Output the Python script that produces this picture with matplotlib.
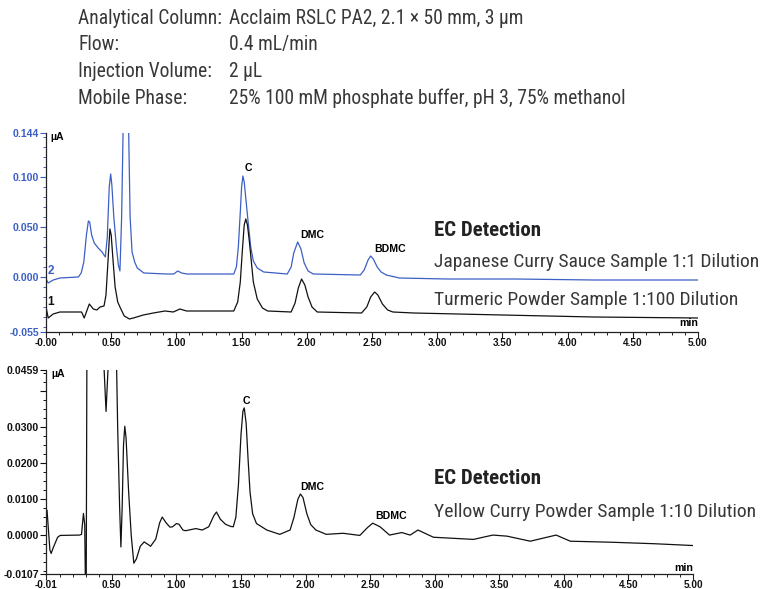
import matplotlib
matplotlib.use("Agg")
import matplotlib.pyplot as plt
from matplotlib import font_manager as fm
from matplotlib.ticker import FixedLocator, MultipleLocator, FixedFormatter

# ---- chromatogram data (retention time in min, signal in µA) ----
sauce_t = [0.00, 0.017, 0.055, 0.107, 0.248, 0.27, 0.29, 0.31, 0.325, 0.335, 0.35, 0.37,
           0.40, 0.43, 0.455, 0.47, 0.485, 0.496, 0.505, 0.52, 0.54, 0.555, 0.567, 0.58,
           0.593, 0.61, 0.632, 0.645, 0.66, 0.68, 0.70, 0.75, 0.925, 0.98, 1.01, 1.04,
           1.08, 1.44, 1.46, 1.475, 1.49, 1.50, 1.51, 1.52, 1.535, 1.55, 1.57, 1.59,
           1.62, 1.67, 1.85, 1.88, 1.90, 1.93, 1.955, 1.98, 2.01, 2.05, 2.41, 2.44,
           2.47, 2.49, 2.51, 2.54, 2.57, 2.61, 2.71, 3.07, 3.60, 4.20, 5.00]
sauce_v = [-0.002, -0.006, -0.003, -0.001, 0.000, 0.004, 0.015, 0.042, 0.056, 0.055, 0.042, 0.034,
           0.029, 0.025, 0.020, 0.040, 0.090, 0.103, 0.092, 0.060, 0.030, 0.012, 0.006, 0.060,
           0.160, 0.260, 0.160, 0.060, 0.025, 0.015, 0.009, 0.004, 0.003, 0.003, 0.006, 0.004,
           0.003, 0.003, 0.010, 0.030, 0.065, 0.090, 0.101, 0.095, 0.075, 0.055, 0.030, 0.016,
           0.009, 0.005, 0.003, 0.010, 0.024, 0.035, 0.028, 0.014, 0.006, 0.003, 0.002, 0.007,
           0.017, 0.021, 0.018, 0.010, 0.005, 0.002, -0.001, -0.002, -0.002, -0.003, -0.003]

turmeric_t = [0.00, 0.017, 0.055, 0.107, 0.273, 0.293, 0.332, 0.363, 0.39, 0.414, 0.445, 0.46,
              0.475, 0.49, 0.50, 0.515, 0.53, 0.55, 0.567, 0.60, 0.64, 0.67, 0.746, 0.823,
              0.912, 0.976, 1.027, 1.078, 1.18, 1.44, 1.47, 1.49, 1.505, 1.52, 1.532, 1.545,
              1.56, 1.575, 1.59, 1.62, 1.66, 1.70, 1.88, 1.91, 1.935, 1.96, 1.985, 2.01,
              2.04, 2.08, 2.42, 2.46, 2.49, 2.52, 2.545, 2.58, 2.62, 2.66, 2.82, 3.50,
              4.20, 5.00]
turmeric_v = [-0.030, -0.041, -0.037, -0.035, -0.035, -0.041, -0.027, -0.032, -0.033, -0.030, -0.029, -0.018,
              0.015, 0.048, 0.042, 0.015, -0.010, -0.025, -0.030, -0.039, -0.042, -0.041, -0.038, -0.036,
              -0.034, -0.035, -0.032, -0.034, -0.034, -0.034, -0.025, -0.005, 0.025, 0.052, 0.058, 0.052,
              0.035, 0.015, -0.005, -0.022, -0.031, -0.034, -0.035, -0.026, -0.011, -0.002, -0.008, -0.020,
              -0.030, -0.035, -0.036, -0.030, -0.020, -0.015, -0.018, -0.027, -0.033, -0.035, -0.036, -0.038,
              -0.040, -0.041]

yellow_t = [-0.01, -0.002, 0.005, 0.011, 0.02, 0.03, 0.045, 0.06, 0.08, 0.10, 0.25, 0.265,
            0.28, 0.29, 0.30, 0.31, 0.43, 0.44, 0.455, 0.47, 0.53, 0.545, 0.56, 0.57,
            0.58, 0.59, 0.60, 0.61, 0.63, 0.65, 0.67, 0.69, 0.72, 0.75, 0.78, 0.80,
            0.84, 0.87, 0.89, 0.92, 0.95, 0.97, 1.00, 1.02, 1.05, 1.07, 1.15, 1.20,
            1.25, 1.29, 1.31, 1.34, 1.38, 1.42, 1.44, 1.46, 1.48, 1.50, 1.515, 1.525,
            1.54, 1.555, 1.57, 1.59, 1.62, 1.70, 1.80, 1.88, 1.91, 1.94, 1.96, 1.98,
            2.01, 2.04, 2.08, 2.16, 2.29, 2.42, 2.48, 2.52, 2.577, 2.65, 2.745, 2.81,
            2.87, 2.99, 3.30, 3.45, 3.56, 3.74, 3.94, 4.05, 4.38, 4.70, 5.00]
yellow_v = [0.0041, 0.0070, 0.0035, 0.0005, -0.0040, -0.0050, -0.0035, -0.0022, -0.0005, 0.0000, 0.0001, 0.0003,
            0.0061, 0.0030, -0.0300, 0.0900, 0.0900, 0.0460, 0.0344, 0.0460, 0.0600, 0.0300, 0.0080, -0.0032,
            0.0080, 0.0250, 0.0303, 0.0270, 0.0120, 0.0000, -0.0077, -0.0065, -0.0030, -0.0018, -0.0025, -0.0030,
            -0.0010, 0.0035, 0.0051, 0.0035, 0.0023, 0.0024, 0.0033, 0.0031, 0.0015, 0.0013, 0.0019, 0.0015,
            0.0024, 0.0055, 0.0065, 0.0045, 0.0031, 0.0025, 0.0024, 0.0050, 0.0140, 0.0280, 0.0345, 0.0354,
            0.0310, 0.0210, 0.0120, 0.0060, 0.0033, 0.0015, 0.0003, 0.0015, 0.0050, 0.0100, 0.0115, 0.0105,
            0.0060, 0.0030, 0.0015, 0.0003, 0.0006, 0.0000, 0.0022, 0.0034, 0.0024, 0.0001, 0.0008, 0.0001,
            0.0015, -0.0005, -0.0011, 0.0001, -0.0002, -0.0016, 0.0001, -0.0016, -0.0019, -0.0023, -0.0028]

# peak annotations: (label, time, signal) - text starts at the given point
top_peaks = [("C", 1.52, 0.104), ("DMC", 1.95, 0.037), ("BDMC", 2.52, 0.023)]
bottom_peaks = [("C", 1.515, 0.0360), ("DMC", 1.955, 0.0121), ("BDMC", 2.54, 0.0041)]

top_yticks = [-0.055, 0.000, 0.050, 0.100, 0.144]
top_ylabels = ["-0.055", "0.000", "0.050", "0.100", "0.144"]
bottom_yticks = [-0.0107, 0.0000, 0.0100, 0.0200, 0.0300, 0.0400, 0.0459]
bottom_ylabels = ["-0.0107", "0.0000", "0.0100", "0.0200", "0.0300", "", "0.0459"]
top_xticks = [0.0, 0.5, 1.0, 1.5, 2.0, 2.5, 3.0, 3.5, 4.0, 4.5, 5.0]
top_xlabels = ["-0.00", "0.50", "1.00", "1.50", "2.00", "2.50", "3.00", "3.50", "4.00", "4.50", "5.00"]
bottom_xticks = [-0.01, 0.5, 1.0, 1.5, 2.0, 2.5, 3.0, 3.5, 4.0, 4.5, 5.0]
bottom_xlabels = ["-0.01", "0.50", "1.00", "1.50", "2.00", "2.50", "3.00", "3.50", "4.00", "4.50", "5.00"]

conditions = [("Analytical Column:", "Acclaim RSLC PA2, 2.1 \u00d7 50 mm, 3 \u00b5m"),
              ("Flow:", "0.4 mL/min"),
              ("Injection Volume:", "2 \u00b5L"),
              ("Mobile Phase:", "25% 100 mM phosphate buffer, pH 3, 75% methanol")]

BLUE = "#3c5fc4"
TXT = "#383838"

# pick a narrow sans family for the header and captions
_available = {f.name for f in fm.fontManager.ttflist}
NARROW_FACE = "DejaVu Sans"
for cand in ["Roboto Condensed", "Liberation Sans Narrow", "Archivo Narrow", "PT Sans Narrow",
             "Fira Sans Condensed", "IBM Plex Sans Condensed", "Open Sans Condensed",
             "Barlow Semi Condensed", "Encode Sans Condensed", "Roboto"]:
    if cand in _available:
        NARROW_FACE = cand
        break
NARROW = [NARROW_FACE, "DejaVu Sans"]
plt.rcParams["font.family"] = ["Liberation Sans", "DejaVu Sans"]

fig = plt.figure(figsize=(7.61, 5.89), dpi=100)
W, H = 761, 589
TICK_FS = 7.6
ANN_FS = 7.6


def px_axes(l, t, r, b):
    return fig.add_axes([l / W, 1 - b / H, (r - l) / W, (b - t) / H])


def style_axes(ax, ycolor):
    for s in ("top", "right"):
        ax.spines[s].set_visible(False)
    for s in ("left", "bottom"):
        ax.spines[s].set_linewidth(0.9)
        ax.spines[s].set_color("#222222")
    ax.tick_params(which="major", length=4, width=0.8, labelsize=TICK_FS, pad=1)
    ax.tick_params(which="minor", length=2.5, width=0.7)
    ax.tick_params(axis="x", which="major", labelsize=7.2, pad=0.5)
    ax.tick_params(axis="y", which="both", colors=ycolor, labelcolor=ycolor)
    ax.tick_params(axis="x", which="both", colors="#222222", labelcolor="#111111")
    for lab in ax.get_xticklabels() + ax.get_yticklabels():
        lab.set_fontweight("bold")


# ---- top panel: two overlaid chromatograms ----
ax1 = px_axes(46, 133, 698, 332)
ax1.plot(sauce_t, sauce_v, color=BLUE, lw=0.9)
ax1.plot(turmeric_t, turmeric_v, color="#111111", lw=0.9)
ax1.set_xlim(0, 5.0)
ax1.set_ylim(-0.055, 0.144)
ax1.yaxis.set_major_locator(FixedLocator(top_yticks))
ax1.yaxis.set_major_formatter(FixedFormatter(top_ylabels))
ax1.yaxis.set_minor_locator(FixedLocator([i / 100 for i in range(-5, 15)]))
ax1.xaxis.set_major_locator(FixedLocator(top_xticks))
ax1.xaxis.set_major_formatter(FixedFormatter(top_xlabels))
ax1.xaxis.set_minor_locator(MultipleLocator(0.1))
style_axes(ax1, BLUE)
for name, t, v in top_peaks:
    ax1.text(t, v, name, fontsize=ANN_FS, fontweight="bold", ha="left", va="bottom")
ax1.text(0.03, 0.145, "\u00b5A", fontsize=ANN_FS, fontweight="bold", ha="left", va="top")
ax1.text(5.0, -0.051, "min", fontsize=ANN_FS, fontweight="bold", ha="right", va="bottom")
ax1.text(0.012, 0.000, "2", fontsize=8.5, fontweight="bold", color=BLUE, ha="left", va="bottom")
ax1.text(0.008, -0.031, "1", fontsize=8.5, fontweight="bold", color="#111111", ha="left", va="bottom")

# ---- bottom panel: single chromatogram ----
ax2 = px_axes(46, 370, 693, 574)
ax2.plot(yellow_t, yellow_v, color="#111111", lw=0.9)
ax2.set_xlim(-0.01, 5.0)
ax2.set_ylim(-0.0107, 0.0459)
ax2.yaxis.set_major_locator(FixedLocator(bottom_yticks))
ax2.yaxis.set_major_formatter(FixedFormatter(bottom_ylabels))
ax2.yaxis.set_minor_locator(FixedLocator([i * 0.0025 for i in range(-4, 19)]))
ax2.xaxis.set_major_locator(FixedLocator(bottom_xticks))
ax2.xaxis.set_major_formatter(FixedFormatter(bottom_xlabels))
ax2.xaxis.set_minor_locator(FixedLocator([i / 10 for i in range(1, 50) if i % 5]))
style_axes(ax2, "#111111")
for name, t, v in bottom_peaks:
    ax2.text(t, v, name, fontsize=ANN_FS, fontweight="bold", ha="left", va="bottom")
ax2.text(0.03, 0.0461, "\u00b5A", fontsize=ANN_FS, fontweight="bold", ha="left", va="top")
ax2.text(5.0, -0.0104, "min", fontsize=ANN_FS, fontweight="bold", ha="right", va="bottom")

# ---- text helpers: size a narrow label so it spans a given pixel width ----
renderer = fig.canvas.get_renderer()


def fitted_size(text, width_px, weight="normal"):
    probe = fig.text(0, 0, text, fontsize=10, family=NARROW, fontweight=weight)
    w = probe.get_window_extent(renderer).width
    probe.remove()
    return 10 * width_px / w


head_fs = 0.5 * (fitted_size("25% 100 mM phosphate buffer, pH 3, 75% methanol", 403)
                 + fitted_size("Analytical Column:", 140))
cap_fs = fitted_size("Japanese Curry Sauce Sample 1:1 Dilution", 322)
ec_fs = fitted_size("EC Detection", 107, "bold")

# ---- run conditions header ----
for i, (k, v) in enumerate(conditions):
    y = 1 - (18 + 26.7 * i) / H
    fig.text(78 / W, y, k, fontsize=head_fs, family=NARROW, color=TXT, va="center")
    fig.text(229 / W, y, v, fontsize=head_fs, family=NARROW, color=TXT, va="center")

# ---- detection captions ----
fig.text(434 / W, 1 - 231 / H, "EC Detection", fontsize=ec_fs, fontweight="bold", family=NARROW, color="#222222", va="center")
fig.text(434 / W, 1 - 262 / H, "Japanese Curry Sauce Sample 1:1 Dilution", fontsize=cap_fs, family=NARROW, color=TXT, va="center")
fig.text(434 / W, 1 - 300 / H, "Turmeric Powder Sample 1:100 Dilution", fontsize=cap_fs, family=NARROW, color=TXT, va="center")
fig.text(434 / W, 1 - 478 / H, "EC Detection", fontsize=ec_fs, fontweight="bold", family=NARROW, color="#222222", va="center")
fig.text(434 / W, 1 - 512 / H, "Yellow Curry Powder Sample 1:10 Dilution", fontsize=cap_fs, family=NARROW, color=TXT, va="center")

fig.savefig("out.png", dpi=100)
